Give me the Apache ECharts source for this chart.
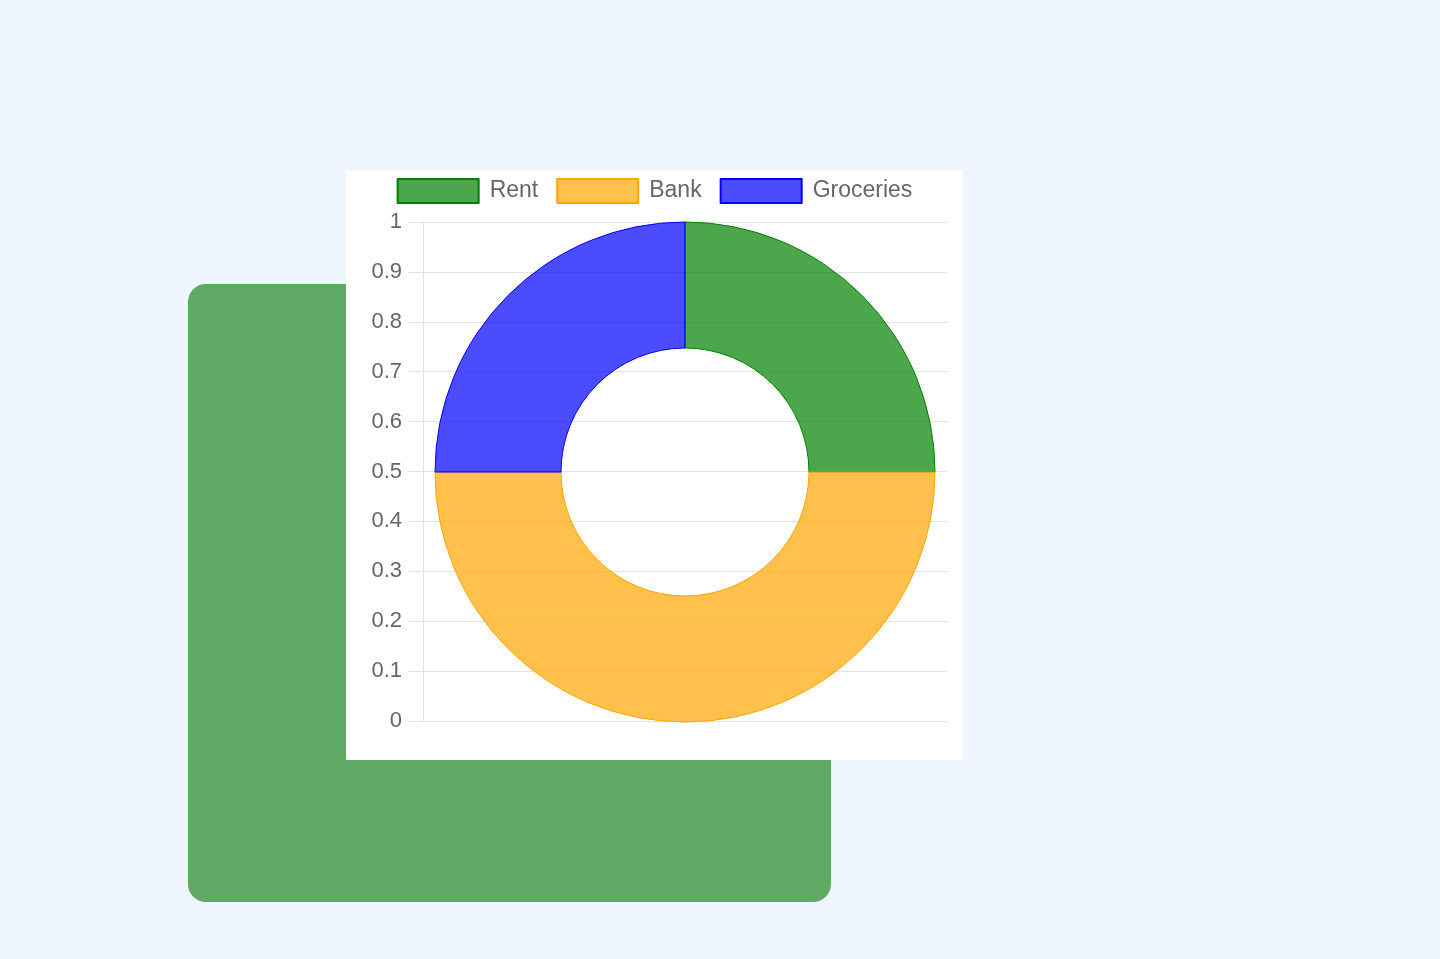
<!DOCTYPE html>
<html>
<head>
<meta charset="utf-8">
<script src="https://cdn.jsdelivr.net/npm/echarts@6/dist/echarts.min.js"></script>
<style>
  html, body { margin: 0; padding: 0; width: 1440px; height: 959px; background: #eff6ff; overflow: hidden; }
  #deco { position: absolute; left: 188px; top: 284px; width: 643px; height: 618px; background: #5eaa64; border-radius: 18px; }
  #chart { position: absolute; left: 346px; top: 170px; width: 617px; height: 590px; background: #ffffff; }
</style>
</head>
<body>
<div id="deco"></div>
<div id="chart"></div>
<script>
const categories = ['Rent', 'Bank', 'Groceries'];
const values = [25, 50, 25];
const fillColors = ['rgba(0,128,0,0.7)', 'rgba(255,165,0,0.7)', 'rgba(0,0,255,0.7)'];
const lineColors = ['rgb(0,128,0)', 'rgb(255,165,0)', 'rgb(0,0,255)'];
const yMin = 0, yMax = 1, yStep = 0.1;

const chart = echarts.init(document.getElementById('chart'), null, { renderer: 'canvas' });
const gridColor = '#e3e3e3';
chart.setOption({
  animation: false,
  textStyle: { fontFamily: 'Liberation Sans, Arial, sans-serif' },
  legend: {
    top: 3,
    left: 'center',
    itemWidth: 81,
    itemHeight: 24,
    itemGap: 18,
    icon: 'rect',
    itemStyle: { borderWidth: 2 },
    textStyle: { fontSize: 23, color: '#666666', padding: [0, 0, 0, 6], fontFamily: 'Liberation Sans, Arial, sans-serif' },
    data: categories
  },
  grid: { left: 77, right: 16, top: 52, bottom: 39, containLabel: false },
  xAxis: {
    type: 'category',
    data: [''],
    axisLine: { show: true, lineStyle: { color: gridColor, width: 1 } },
    axisTick: { show: false },
    axisLabel: { show: false },
    splitLine: { show: false }
  },
  yAxis: {
    type: 'value',
    min: yMin, max: yMax, interval: yStep,
    axisLine: { show: true, lineStyle: { color: gridColor, width: 1 } },
    axisTick: { show: true, length: 15, lineStyle: { color: gridColor } },
    axisLabel: { margin: 21, fontSize: 22, color: '#666666', fontFamily: 'Liberation Sans, Arial, sans-serif',
      formatter: v => String(+v.toFixed(1)) },
    splitLine: { show: true, lineStyle: { color: gridColor, width: 1 } }
  },
  series: [{
    type: 'pie',
    center: [339, 302],
    radius: [124, 250],
    startAngle: 90,
    clockwise: true,
    label: { show: false },
    labelLine: { show: false },
    emphasis: { disabled: true },
    data: categories.map((c, i) => ({
      name: c,
      value: values[i],
      itemStyle: { color: fillColors[i], borderColor: lineColors[i], borderWidth: 1 }
    }))
  }]
});
</script>
</body>
</html>
